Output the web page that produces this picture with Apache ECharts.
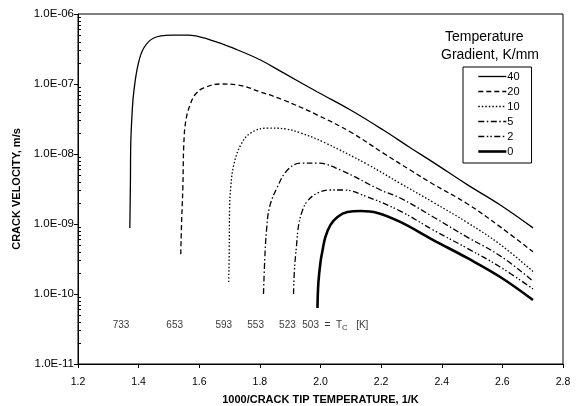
<!DOCTYPE html>
<html>
<head>
<meta charset="utf-8">
<script src="https://cdn.jsdelivr.net/npm/echarts@6/dist/echarts.min.js"></script>
<style>
html, body { margin: 0; padding: 0; background: #fff; }
#chart { width: 578px; height: 406px; }
</style>
</head>
<body>
<div id="chart"></div>
<script>
// Temperature gradients (K/mm), one curve each
var gradients = ['40', '20', '10', '5', '2', '0'];

// 1000/crack tip temperature (1/K) and crack velocity (m/s)
var x40 = [1.371, 1.373, 1.374, 1.379, 1.384, 1.398, 1.417, 1.450, 1.506, 1.562, 1.638, 1.727, 1.802, 1.878, 1.990, 2.099, 2.207, 2.296, 2.372, 2.484, 2.593, 2.701];
var v40 = [8.8e-10, 4.2e-9, 1.35e-8, 4.2e-8, 7.7e-8, 1.87e-7, 3.27e-7, 4.54e-7, 5.0e-7, 5.0e-7, 4.25e-7, 3.06e-7, 2.2e-7, 1.44e-7, 7.7e-8, 4.25e-8, 2.2e-8, 1.23e-8, 7.6e-9, 3.65e-9, 1.87e-9, 8.8e-10];

var x20 = [1.539, 1.542, 1.546, 1.549, 1.556, 1.572, 1.588, 1.615, 1.671, 1.727, 1.802, 1.878, 1.990, 2.099, 2.207, 2.296, 2.372, 2.484, 2.593, 2.701];
var v20 = [3.7e-10, 1.14e-9, 3.4e-9, 1.35e-8, 3.06e-8, 5.35e-8, 7.2e-8, 8.8e-8, 1.0e-7, 9.7e-8, 7.7e-8, 5.9e-8, 3.6e-8, 2.06e-8, 1.03e-8, 5.9e-9, 3.7e-9, 1.95e-9, 9.1e-10, 4.0e-10];

var x10 = [1.697, 1.699, 1.700, 1.704, 1.714, 1.737, 1.770, 1.826, 1.885, 1.934, 2.010, 2.155, 2.263, 2.372, 2.484, 2.593, 2.701];
var v10 = [1.48e-10, 4.2e-10, 1.58e-9, 3.4e-9, 7.0e-9, 1.35e-8, 2.0e-8, 2.35e-8, 2.28e-8, 2.0e-8, 1.48e-8, 7.1e-9, 3.8e-9, 2.04e-9, 1.05e-9, 5.1e-10, 2.1e-10];

var x5 = [1.812, 1.816, 1.822, 1.832, 1.858, 1.891, 1.934, 1.990, 2.066, 2.198, 2.263, 2.372, 2.484, 2.593, 2.701];
var v5 = [1.0e-10, 3.06e-10, 8.2e-10, 1.75e-9, 3.4e-9, 5.9e-9, 7.4e-9, 7.4e-9, 5.9e-9, 3.06e-9, 2.35e-9, 1.26e-9, 6.5e-10, 3.5e-10, 1.53e-10];

var x2 = [1.911, 1.914, 1.921, 1.928, 1.941, 1.957, 1.990, 2.033, 2.076, 2.155, 2.263, 2.372, 2.484, 2.593, 2.701];
var v2 = [1.0e-10, 2.2e-10, 5.0e-10, 9.7e-10, 1.58e-9, 2.13e-9, 2.77e-9, 3.06e-9, 3.06e-9, 2.43e-9, 1.53e-9, 8.2e-10, 4.5e-10, 2.43e-10, 1.18e-10];

var x0 = [1.990, 1.993, 2.000, 2.007, 2.016, 2.033, 2.056, 2.089, 2.132, 2.188, 2.263, 2.372, 2.484, 2.593, 2.701];
var v0 = [6.3e-11, 1.44e-10, 2.86e-10, 4.25e-10, 6.5e-10, 9.7e-10, 1.26e-9, 1.48e-9, 1.53e-9, 1.44e-9, 1.07e-9, 5.9e-10, 3.27e-10, 1.75e-10, 8.2e-11];

// Critical temperatures written under the curves
var tcLabels = ['733', '653', '593', '553', '523', '503  =  T{sub|C}   [K]'];
var tcLabelX = [1.342, 1.519, 1.681, 1.786, 1.891, 1.940];
var tcLabelV = 3.6e-11;

var FONT = 'Liberation Sans, Arial, sans-serif';

function zip(xs, ys) {
    return xs.map(function(x, i) { return [x, ys[i]]; });
}

// log minor ticks 2..9 inside each decade
var minorTicks = [];
for (var e = -11; e < -6; e++) {
    for (var m = 2; m <= 9; m++) {
        minorTicks.push(m * Math.pow(10, e));
    }
}

function expLabel(v) {
    var e = Math.round(Math.log10(v));
    var a = Math.abs(e);
    return '1.0E' + (e < 0 ? '-' : '+') + (a < 10 ? '0' : '') + a;
}

var styles = {
    '40': { width: 1.3, type: 'solid' },
    '20': { width: 1.3, type: [5, 3] },
    '10': { width: 1.3, type: [1.5, 2] },
    '5': { width: 1.3, type: [6, 2.5, 1.5, 2.5] },
    '2': { width: 1.3, type: [6, 2.5, 1.5, 2, 1.5, 2.5] },
    '0': { width: 2.6, type: 'solid' }
};
var curveData = {
    '40': zip(x40, v40), '20': zip(x20, v20), '10': zip(x10, v10),
    '5': zip(x5, v5), '2': zip(x2, v2), '0': zip(x0, v0)
};

var series = gradients.map(function(g) {
    return {
        name: g,
        type: 'line',
        data: curveData[g],
        symbol: 'none',
        smooth: 0.4,
        lineStyle: { color: '#000', width: styles[g].width, type: styles[g].type },
        itemStyle: { color: '#000' }
    };
});

// Tc annotation text
series.push({
    type: 'scatter',
    symbolSize: 0,
    silent: true,
    data: tcLabelX.map(function(x, i) {
        return {
            value: [x, tcLabelV],
            label: { align: i === tcLabels.length - 1 ? 'left' : 'center' }
        };
    }),
    label: {
        show: true,
        position: 'inside',
        color: '#000',
        fontFamily: FONT,
        fontSize: 10,
        formatter: function(p) { return tcLabels[p.dataIndex]; },
        rich: {
            sub: { fontSize: 8, verticalAlign: 'bottom', padding: [5, 0, 0, 0], fontFamily: FONT, color: '#000' }
        }
    }
});

var chart = echarts.init(document.getElementById('chart'));
chart.setOption({
    animation: false,
    backgroundColor: '#fff',
    grid: {
        left: 78, right: 15, top: 14, bottom: 42,
        outerBoundsMode: 'none',
        show: true, borderColor: '#000', borderWidth: 1
    },
    legend: {
        data: gradients,
        orient: 'vertical',
        left: 463,
        top: 67,
        itemWidth: 28,
        itemHeight: 10,
        itemGap: 4,
        padding: [4, 12, 6, 14],
        borderColor: '#000',
        borderWidth: 1,
        selectedMode: false,
        itemStyle: { opacity: 0 },
        lineStyle: { width: 'inherit' },
        textStyle: { fontFamily: FONT, fontSize: 11, color: '#000', padding: [0, 0, 0, -4] }
    },
    graphic: [
        { type: 'text', left: 445, top: 30, style: { text: 'Temperature', font: '14px ' + FONT, fill: '#000' } },
        { type: 'text', left: 441, top: 48, style: { text: 'Gradient, K/mm', font: '14px ' + FONT, fill: '#000' } }
    ],
    xAxis: {
        type: 'value',
        min: 1.2,
        max: 2.8,
        interval: 0.2,
        axisLine: { lineStyle: { color: '#000', width: 1 } },
        axisTick: { length: 4, lineStyle: { color: '#000' } },
        axisLabel: {
            color: '#000', fontFamily: FONT, fontSize: 10.5, margin: 13,
            formatter: function(v) { return v.toFixed(1); }
        },
        splitLine: { show: false },
        name: '1000/CRACK TIP TEMPERATURE, 1/K',
        nameLocation: 'middle',
        nameGap: 30,
        nameTextStyle: { color: '#000', fontFamily: FONT, fontSize: 11, fontWeight: 'bold' }
    },
    yAxis: [{
        type: 'log',
        logBase: 10,
        min: 1e-11,
        max: 1e-6,
        splitNumber: 5,
        axisLine: { show: true, lineStyle: { color: '#000', width: 1 } },
        axisTick: { show: true, length: 4, lineStyle: { color: '#000' } },
        axisLabel: { color: '#000', fontFamily: FONT, fontSize: 11.5, margin: 4, formatter: expLabel },
        splitLine: { show: false },
        name: 'CRACK VELOCITY, m/s',
        nameLocation: 'middle',
        nameGap: 46,
        nameTextStyle: { color: '#000', fontFamily: FONT, fontSize: 11, fontWeight: 'bold' }
    }, {
        type: 'log',
        logBase: 10,
        min: 1e-11,
        max: 1e-6,
        position: 'left',
        axisLine: { show: false },
        axisTick: { show: true, inside: true, length: 3, customValues: minorTicks, lineStyle: { color: '#000' } },
        axisLabel: { show: false },
        splitLine: { show: false }
    }],
    series: series
});
</script>
</body>
</html>
